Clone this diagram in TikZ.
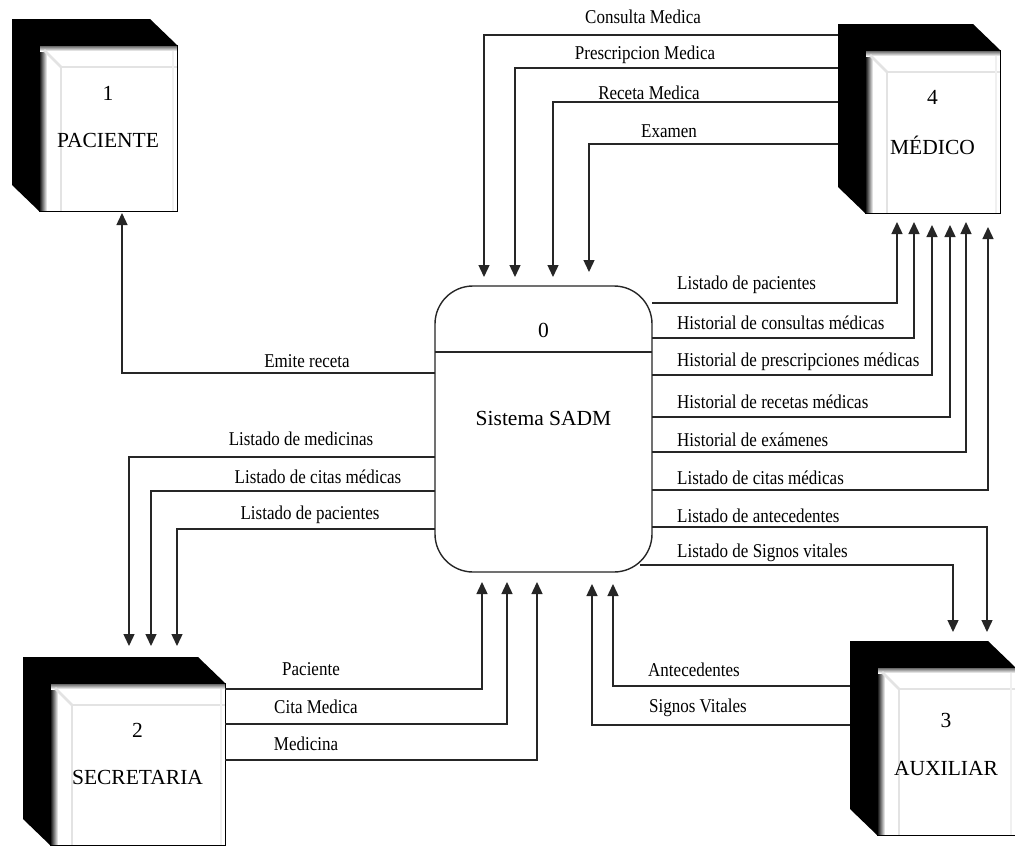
\documentclass[tikz,border=0pt]{standalone}
\usepackage{fontspec}
\setmainfont{Liberation Serif}
\usetikzlibrary{arrows.meta,calc}

% flow label text, set slightly taller than wide
\newcommand{\flowtext}[1]{\scalebox{1}[1.15]{\fontsize{17}{19}\selectfont #1}}

% external entity drawn as a shaded cube
% #1 name, #2 face top-left, #3 width, #4 height, #5 number, #6 label, #7 number offset, #8 label offset
\newcommand{\entitybox}[8]{%
  \node[face, minimum width=#3pt, minimum height=#4pt, anchor=north west] (#1) at (#2) {};
  \fill[black] ($(#1.north west)+(-27,-26)$) -- ($(#1.north east)+(-27,-26)$)
     -- (#1.north east) -- (#1.north west) -- (#1.south west)
     -- ($(#1.south west)+(-27,-26)$) -- cycle;
  \shade[left color=black, right color=white] (#1.north west) rectangle ($(#1.south west)+(8,0)$);
  \shade[top color=black!70, bottom color=white] (#1.north west) rectangle ($(#1.north east)+(0,6)$);
  \draw[bevel] ($(#1.north east)+(0,22)$) -- ($(#1.north west)+(22,22)$) -- ($(#1.south west)+(22,0)$);
  \draw[bevel] ($(#1.north west)+(5,5)$) -- ($(#1.north west)+(22,22)$);
  \draw[bevel, draw=gray!12] ($(#1.north east)+(-4,6)$) -- ($(#1.south east)+(-4,0)$);
  \draw[line width=1pt] (#1.north west) rectangle (#1.south east);
  \node[ent] at ($(#1.north)+(0,#7)$) {#5};
  \node[ent] at ($(#1.north)+(0,#8)$) {#6};
  \coordinate (#1-back) at ($(#1.west)+(-27,-13)$);
  \coordinate (#1-top) at ($(#1.north)+(-13,-26)$);
}

\begin{document}
\begin{tikzpicture}[x=1pt, y=-1pt,
  face/.style={fill=white, inner sep=0pt, outer sep=0pt},
  bevel/.style={draw=gray!22, line width=2.5pt},
  ent/.style={inner sep=0pt, font=\fontsize{21.5}{24}\selectfont},
  procbox/.style={draw=black!85, line width=1.4pt, rounded corners=38pt, fill=white,
                  inner sep=0pt, outer sep=0pt},
  flow/.style={draw=black!85, line width=1.4pt, -{Triangle[length=12pt,width=11pt]}},
  lbl/.style={inner sep=0pt}
]
\useasboundingbox (0,0) rectangle (1015,846);
\fill[white] (0,0) rectangle (1015,846);

% external entities
\entitybox{pac}{39,45}{138}{166}{1}{PACIENTE}{48}{95}
\entitybox{med}{865,50}{135}{163}{4}{MÉDICO}{47}{95}
\entitybox{sec}{50,683}{175}{162}{2}{SECRETARIA}{47}{94}
\entitybox{aux}{877,667}{138}{168}{3}{AUXILIAR}{53}{101}

% the system process
\node[procbox, minimum width=217pt, minimum height=286pt, anchor=north west] (sys) at (435,286) {};
\draw[draw=black!85, line width=1.4pt] (sys.west |- 0,352) -- (sys.east |- 0,352);
\node[ent] at (sys.north |- 0,330) {0};
\node[ent] at (sys.north |- 0,418) {Sistema SADM};

% MÉDICO -> sistema
\draw[flow, shorten >=9pt] (med-back |- 0,35)  -| (sys.north -| 484,0);
\draw[flow, shorten >=9pt] (med-back |- 0,68)  -| (sys.north -| 515,0);
\draw[flow, shorten >=9pt] (med-back |- 0,102) -| (sys.north -| 553,0);
\draw[flow, shorten >=14pt] (med-back |- 0,144) -| (sys.north -| 589,0);
\node[lbl] at (643,17)  {\flowtext{Consulta Medica}};
\node[lbl] at (645,55)  {\flowtext{Prescripcion Medica}};
\node[lbl] at (649,93)  {\flowtext{Receta Medica}};
\node[lbl] at (669,131) {\flowtext{Examen}};

% sistema -> MÉDICO
\draw[flow, shorten >=9pt]  (sys.east |- 0,303) -| (med.south -| 897,0);
\draw[flow, shorten >=9pt]  (sys.east |- 0,338) -| (med.south -| 914,0);
\draw[flow, shorten >=12pt] (sys.east |- 0,375) -| (med.south -| 932,0);
\draw[flow, shorten >=12pt] (sys.east |- 0,417) -| (med.south -| 950,0);
\draw[flow, shorten >=9pt]  (sys.east |- 0,452) -| (med.south -| 966,0);
\draw[flow, shorten >=14pt] (sys.east |- 0,490) -| (med.south -| 988,0);
\node[lbl, anchor=west] at (677,285) {\flowtext{Listado de pacientes}};
\node[lbl, anchor=west] at (677,323) {\flowtext{Historial de consultas médicas}};
\node[lbl, anchor=west] at (677,362) {\flowtext{Historial de prescripciones médicas}};
\node[lbl, anchor=west] at (677,402) {\flowtext{Historial de recetas médicas}};
\node[lbl, anchor=west] at (677,440) {\flowtext{Historial de exámenes}};
\node[lbl, anchor=west] at (677,478) {\flowtext{Listado de citas médicas}};

% sistema -> AUXILIAR
\draw[flow, shorten >=9pt] (sys.east |- 0,527) -| (aux-top -| 987,0);
\coordinate (sysSE) at ($(sys.south east)+(-12,-7)$);
\draw[flow, shorten >=9pt] (sysSE) -| (aux-top -| 953,0);
\node[lbl, anchor=west] at (677,516) {\flowtext{Listado de antecedentes}};
\node[lbl, anchor=west] at (677,553) {\flowtext{Listado de Signos vitales}};

% AUXILIAR -> sistema
\draw[flow, shorten >=12pt] (aux-back |- 0,686) -| (sys.south -| 613,0);
\draw[flow, shorten >=12pt] (aux-back |- 0,725) -| (sys.south -| 592,0);
\node[lbl] at (694,670) {\flowtext{Antecedentes}};
\node[lbl] at (698,708) {\flowtext{Signos Vitales}};

% sistema -> PACIENTE
\draw[flow, shorten >=2pt] (sys.west |- 0,373) -| (pac.south -| 122,0);
\node[lbl] at (307,361) {\flowtext{Emite receta}};

% sistema -> SECRETARIA
\draw[flow, shorten >=11pt] (sys.west |- 0,457) -| (sec-top -| 129,0);
\draw[flow, shorten >=11pt] (sys.west |- 0,491) -| (sec-top -| 151,0);
\draw[flow, shorten >=11pt] (sys.west |- 0,529) -| (sec-top -| 177,0);
\node[lbl] at (301,439) {\flowtext{Listado de medicinas}};
\node[lbl] at (318,477) {\flowtext{Listado de citas médicas}};
\node[lbl] at (310,515) {\flowtext{Listado de pacientes}};

% SECRETARIA -> sistema
\draw[flow, shorten >=10pt] (sec.east |- 0,689) -| (sys.south -| 482,0);
\draw[flow, shorten >=10pt] (sec.east |- 0,724) -| (sys.south -| 507,0);
\draw[flow, shorten >=10pt] (sec.east |- 0,760) -| (sys.south -| 537,0);
\node[lbl] at (311,669) {\flowtext{Paciente}};
\node[lbl] at (316,707) {\flowtext{Cita Medica}};
\node[lbl] at (306,744) {\flowtext{Medicina}};
\end{tikzpicture}
\end{document}
